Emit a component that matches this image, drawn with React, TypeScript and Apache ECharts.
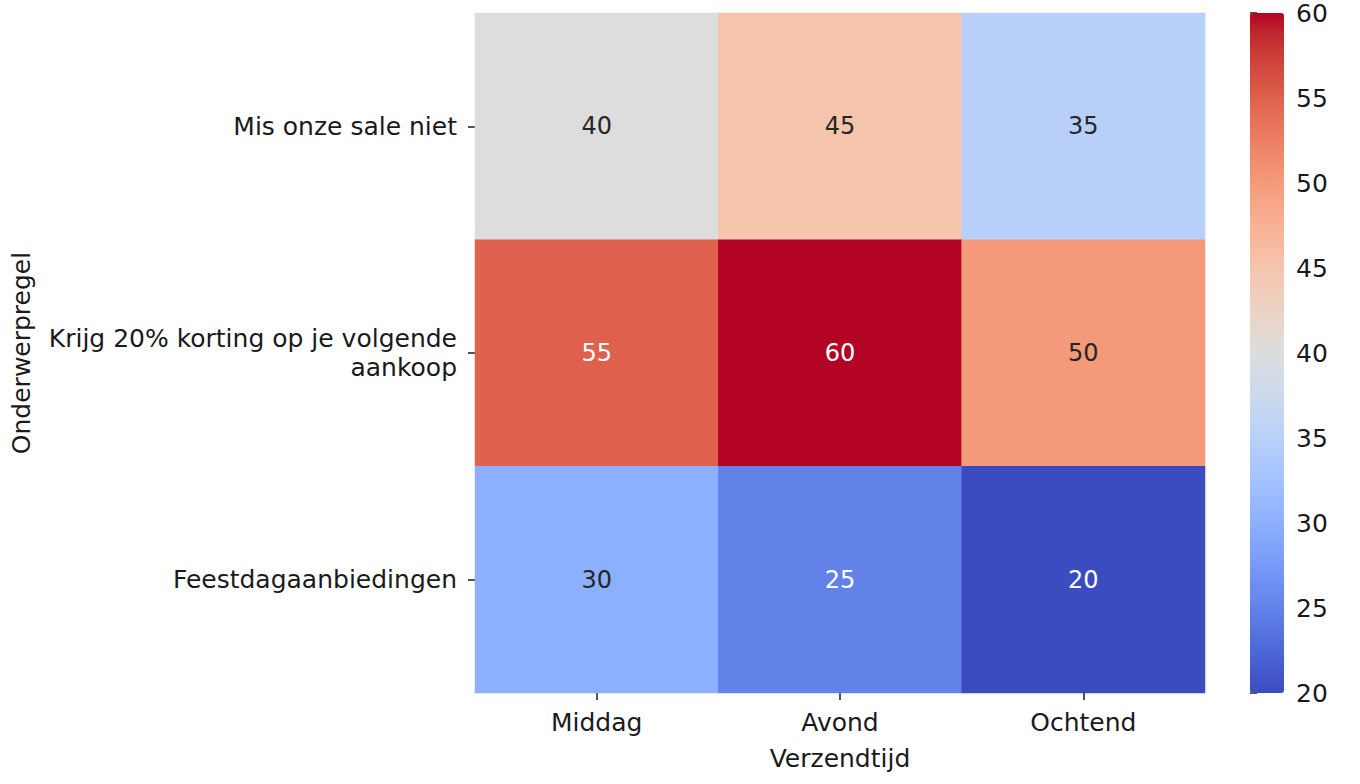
import React, { useEffect, useRef } from "react";
import * as echarts from "echarts";

const sendTimes = ["Middag", "Avond", "Ochtend"];
const subjectLines = [
  "Mis onze sale niet",
  "Krijg 20% korting op je volgende\naankoop",
  "Feestdagaanbiedingen",
];
// rows follow subjectLines, columns follow sendTimes
const valuesMis = [40, 45, 35];
const valuesKrijg = [55, 60, 50];
const valuesFeest = [30, 25, 20];
const colorbarTicks = [20, 25, 30, 35, 40, 45, 50, 55, 60];

const coolwarm = [
  [59, 76, 192], [68, 90, 204], [77, 104, 215], [87, 117, 225], [98, 130, 234],
  [108, 142, 241], [119, 154, 247], [130, 165, 251], [141, 176, 254], [152, 185, 255],
  [163, 194, 255], [174, 201, 253], [184, 208, 249], [194, 213, 244], [204, 217, 238],
  [213, 219, 230], [221, 221, 221], [229, 216, 209], [236, 211, 197], [241, 204, 185],
  [245, 196, 173], [247, 187, 160], [247, 177, 148], [247, 166, 135], [244, 154, 123],
  [241, 141, 111], [236, 127, 99], [229, 112, 88], [222, 96, 77], [213, 80, 66],
  [203, 62, 56], [192, 40, 47], [180, 4, 38],
].map(([r, g, b]) => `rgb(${r},${g},${b})`);

const FONT = "DejaVu Sans";

export default function App() {
  const ref = useRef<HTMLDivElement>(null);
  useEffect(() => {
    if (!ref.current) return;
    const chart = echarts.init(ref.current, undefined, { renderer: "svg" });
    const rows = [valuesMis, valuesKrijg, valuesFeest];
    const data: any[] = [];
    rows.forEach((row, yi) =>
      row.forEach((v, xi) => {
        const dark = v >= 55 || v <= 25;
        data.push({
          value: [xi, yi, v],
          label: { color: dark ? "#ffffff" : "#262626" },
        });
      })
    );
    const vmin = colorbarTicks[0];
    const vmax = colorbarTicks[colorbarTicks.length - 1];
    chart.setOption({
      animation: false,
      backgroundColor: "#ffffff",
      textStyle: { fontFamily: FONT },
      grid: [
        { left: 475, right: 155, top: 13, bottom: 91, outerBoundsMode: "none", containLabel: false },
        { left: 1250, width: 34, top: 13, bottom: 91, outerBoundsMode: "none", containLabel: false },
      ],
      xAxis: [
        {
          type: "category",
          gridIndex: 0,
          data: sendTimes,
          name: "Verzendtijd",
          nameLocation: "middle",
          nameGap: 53,
          nameTextStyle: { fontSize: 25, color: "#1a1a1a", fontFamily: FONT },
          axisLine: { show: false },
          axisTick: { show: true, alignWithLabel: true, length: 7, lineStyle: { color: "#1a1a1a", width: 1.5 } },
          axisLabel: { fontSize: 25, color: "#1a1a1a", margin: 17, fontFamily: FONT },
          splitLine: { show: false },
          splitArea: { show: false },
        },
        {
          type: "value",
          gridIndex: 1,
          show: false,
          min: 0,
          max: 1,
        },
      ],
      yAxis: [
        {
          type: "category",
          gridIndex: 0,
          data: subjectLines,
          inverse: true,
          name: "Onderwerpregel",
          nameLocation: "middle",
          nameGap: 441,
          nameRotate: 90,
          nameTextStyle: { fontSize: 25, color: "#1a1a1a", fontFamily: FONT },
          axisLine: { show: false },
          axisTick: { show: true, alignWithLabel: true, length: 7, lineStyle: { color: "#1a1a1a", width: 1.5 } },
          axisLabel: { fontSize: 25, color: "#1a1a1a", margin: 18, align: "right", lineHeight: 29, fontFamily: FONT },
          splitLine: { show: false },
          splitArea: { show: false },
        },
        {
          type: "value",
          gridIndex: 1,
          position: "right",
          min: vmin,
          max: vmax,
          interval: 5,
          axisLine: { show: false },
          axisTick: { show: true, length: 7, lineStyle: { color: "#1a1a1a", width: 1.5 } },
          axisLabel: { fontSize: 25, color: "#1a1a1a", margin: 12, fontFamily: FONT },
          splitLine: { show: false },
        },
      ],
      visualMap: {
        type: "continuous",
        seriesIndex: 0,
        min: vmin,
        max: vmax,
        calculable: false,
        hoverLink: false,
        orient: "vertical",
        left: 1250,
        top: 13,
        itemWidth: 34,
        itemHeight: 680,
        padding: 0,
        text: ["", ""],
        showLabel: false,
        inRange: { color: coolwarm },
      },
      series: [
        {
          type: "heatmap",
          xAxisIndex: 0,
          yAxisIndex: 0,
          data,
          label: { show: true, fontSize: 24, fontFamily: FONT },
          itemStyle: { borderWidth: 0 },
          emphasis: { disabled: true },
        },
        {
          type: "scatter",
          xAxisIndex: 1,
          yAxisIndex: 1,
          data: [],
        },
      ],
    });
    return () => chart.dispose();
  }, []);
  return (
    <div
      ref={ref}
      style={{ position: "fixed", left: 0, top: 0, width: 1360, height: 784 }}
    />
  );
}
